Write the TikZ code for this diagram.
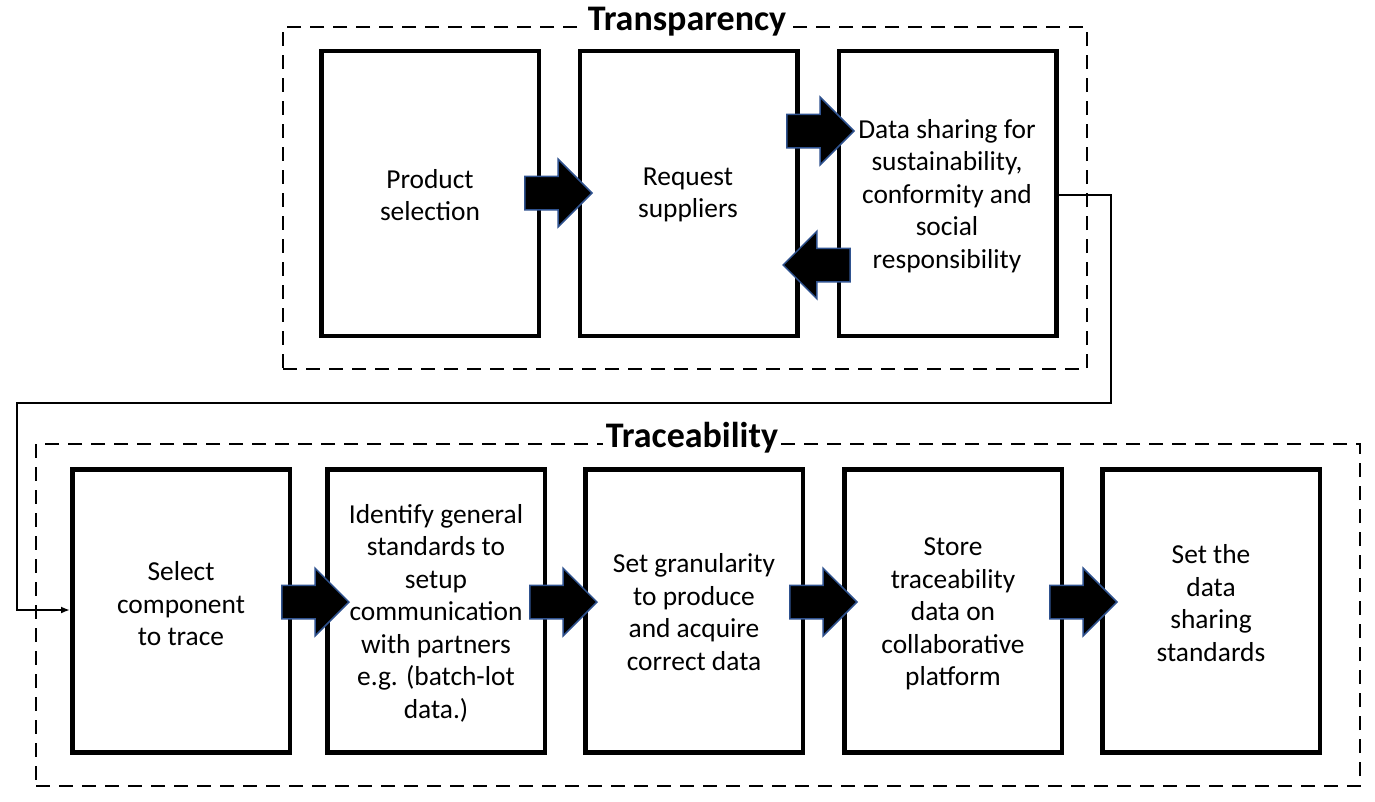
\documentclass[tikz,border=0pt]{standalone}
\usepackage{fontspec}
\setmainfont{Carlito}
\usetikzlibrary{shapes.arrows,arrows.meta,calc}
\definecolor{arrowedge}{RGB}{47,82,143}
\tikzset{
  stagebox/.style={draw=black,line width=4.5pt,minimum width=217.5pt,inner sep=0pt},
  topbox/.style={stagebox,minimum height=285pt},
  botbox/.style={stagebox,minimum height=283pt},
  frame/.style={draw=black,line width=2.5pt,dash pattern=on 14pt off 9pt,inner sep=0pt},
  boxtext/.style={align=center,font=\fontsize{27.4pt}{32.5pt}\selectfont,inner sep=0pt},
  title/.style={fill=white,font=\bfseries\fontsize{36pt}{40pt}\selectfont,inner sep=3pt},
  blockarrow/.style={single arrow,draw=arrowedge,fill=black,line width=1.5pt,anchor=tip,
    minimum height=67pt,inner xsep=0pt,inner ysep=16pt,single arrow head extend=17pt},
  link/.style={draw=black,line width=2pt,-{Latex[length=9pt,width=7pt]}}
}
\begin{document}
\begin{tikzpicture}[x=1pt,y=-1pt]
\useasboundingbox (0,0) rectangle (1375,801);
% frames
\node[frame,minimum width=804pt,minimum height=342pt] (ftop) at (685,198) {};
\node[frame,minimum width=1324pt,minimum height=342pt] (fbot) at (698,615) {};
\node[title] (ttop) at (687,22) {Transparency};
\node[title] (tbot) at (692,438) {Traceability};
% top boxes
\node[topbox] (p1) at (430,193.5) {};
\node[topbox] (p2) at (688.5,193.5) {};
\node[topbox] (p3) at (947.5,193.5) {};
\node[boxtext] (p1t) at (430,195) {Product\\selection};
\node[boxtext] (p2t) at (688,195) {Request\\suppliers};
\node[boxtext] (p3t) at (947,196) {Data sharing for\\sustainability,\\conformity and\\social\\responsibility};
% bottom boxes
\node[botbox] (b1) at (181,611) {};
\node[botbox] (b2) at (436,611) {};
\node[botbox] (b3) at (694,611) {};
\node[botbox] (b4) at (953,611) {};
\node[botbox] (b5) at (1211,611) {};
\node[boxtext] (b1t) at (181,604) {Select\\component\\to trace};
\node[boxtext] (b2t) at (436,613) {Identify general\\standards to\\setup\\communication\\with partners\\e.g. (batch-lot\\data.)};
\node[boxtext] (b3t) at (694,612) {Set granularity\\to produce\\and acquire\\correct data};
\node[boxtext] (b4t) at (953,614) {Store\\traceability\\data on\\collaborative\\platform};
\node[boxtext] (b5t) at (1211,603) {Set the\\data\\sharing\\standards};
% block arrows (placed by their tips)
\node[blockarrow] (a1) at (593,193) {};
\node[blockarrow] (a2) at (855,131) {};
\node[blockarrow,shape border rotate=180] (a3) at (782,265) {};
\node[blockarrow] (a4) at (350,602) {};
\node[blockarrow] (a5) at (598,602) {};
\node[blockarrow] (a6) at (858,602) {};
\node[blockarrow] (a7) at (1118,602) {};
% connector
\coordinate (c1) at (1111,195);
\coordinate (c2) at (1111,403);
\coordinate (c3) at (17,403);
\coordinate (c4) at (17,610);
\draw[link] (p3.east |- c1) -- (c1) -- (c2) -- (c3) -- (c4) -- (b1.west |- c4);
\end{tikzpicture}
\end{document}
